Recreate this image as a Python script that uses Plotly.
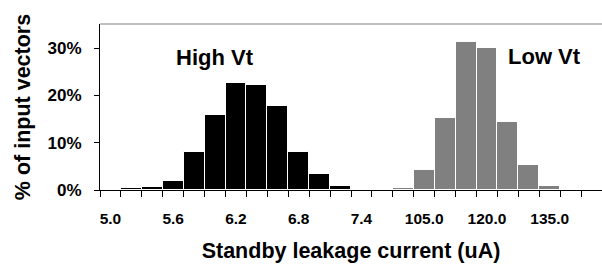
import plotly.graph_objects as go

high_cats = ["5.0", "5.2", "5.4", "5.6", "5.8", "6.0", "6.2", "6.4", "6.6", "6.8", "7.0", "7.2", "7.4"]
high_vals = [0.1, 0.35, 0.6, 2.0, 8.0, 15.9, 22.7, 22.3, 17.8, 8.0, 3.4, 0.85, 0.0]
low_cats = ["95.0", "100.0", "105.0", "110.0", "115.0", "120.0", "125.0", "130.0", "135.0", "140.0", "145.0"]
low_vals = [0.0, 0.35, 4.2, 15.2, 31.3, 30.1, 14.3, 5.3, 0.85, 0.0, 0.0]
label_cats = ["5.0", "5.6", "6.2", "6.8", "7.4", "105.0", "120.0", "135.0"]
y_ticks = [0, 10, 20, 30]

all_cats = high_cats + low_cats
font = "Arial, Liberation Sans, sans-serif"

fig = go.Figure()
fig.add_bar(x=high_cats, y=high_vals, name="High Vt",
            marker=dict(color="#000000", line=dict(color="#ffffff", width=1)))
fig.add_bar(x=low_cats, y=low_vals, name="Low Vt",
            marker=dict(color="#808080", line=dict(color="#ffffff", width=1)))

fig.update_layout(
    width=602, height=266, autosize=False,
    margin=dict(l=100, r=0, t=24, b=76),
    plot_bgcolor="white", paper_bgcolor="white",
    barmode="overlay", bargap=0, showlegend=False,
    font=dict(family=font, size=13, color="black"),
    xaxis=dict(
        type="category", categoryorder="array", categoryarray=all_cats,
        tickmode="array", tickvals=all_cats,
        ticktext=["<b>%s</b>" % c if c in label_cats else "" for c in all_cats],
        tickangle=0, automargin=False, ticklabelstandoff=14,
        tickson="boundaries", ticks="outside", ticklen=6, tickcolor="black",
        showline=True, linecolor="black", linewidth=1, showgrid=False,
        range=[-0.5, len(all_cats) - 0.5],
        tickfont=dict(family=font, size=15.5, color="black"),
        title=dict(text="<b>Standby leakage current (uA)</b>", font=dict(size=21.5), standoff=17),
    ),
    yaxis=dict(
        range=[0, 35.1], tickmode="array", tickvals=y_ticks,
        ticktext=["<b>%d%%</b>" % v for v in y_ticks], automargin=False,
        ticklabelstandoff=9,
        ticks="outside", ticklen=5, tickcolor="black",
        showline=True, linecolor="black", linewidth=1, showgrid=False, zeroline=False,
        tickfont=dict(family=font, size=17, color="black"),
        title=dict(text="<b>% of input vectors</b>", font=dict(size=21.5), standoff=11),
    ),
    shapes=[dict(type="line", xref="paper", yref="paper", x0=0, x1=1, y0=1, y1=1,
                 line=dict(color="#c0c0c0", width=2))],
    annotations=[
        dict(text="<b>High Vt</b>", x=5.0, y=28.1, xref="x", yref="y", showarrow=False,
             font=dict(size=22, family=font)),
        dict(text="<b>Low Vt</b>", x=20.77, y=28.3, xref="x", yref="y", showarrow=False,
             font=dict(size=22, family=font)),
    ],
)

post = """
document.body.style.margin = '0';
document.body.style.padding = '0';
document.body.style.overflow = 'hidden';
var gd = document.getElementById('{plot_id}');
Plotly.relayout(gd, {width: 602, height: 266});
"""

fig.write_html("out.html", config={"responsive": False, "displayModeBar": False}, post_script=post)
